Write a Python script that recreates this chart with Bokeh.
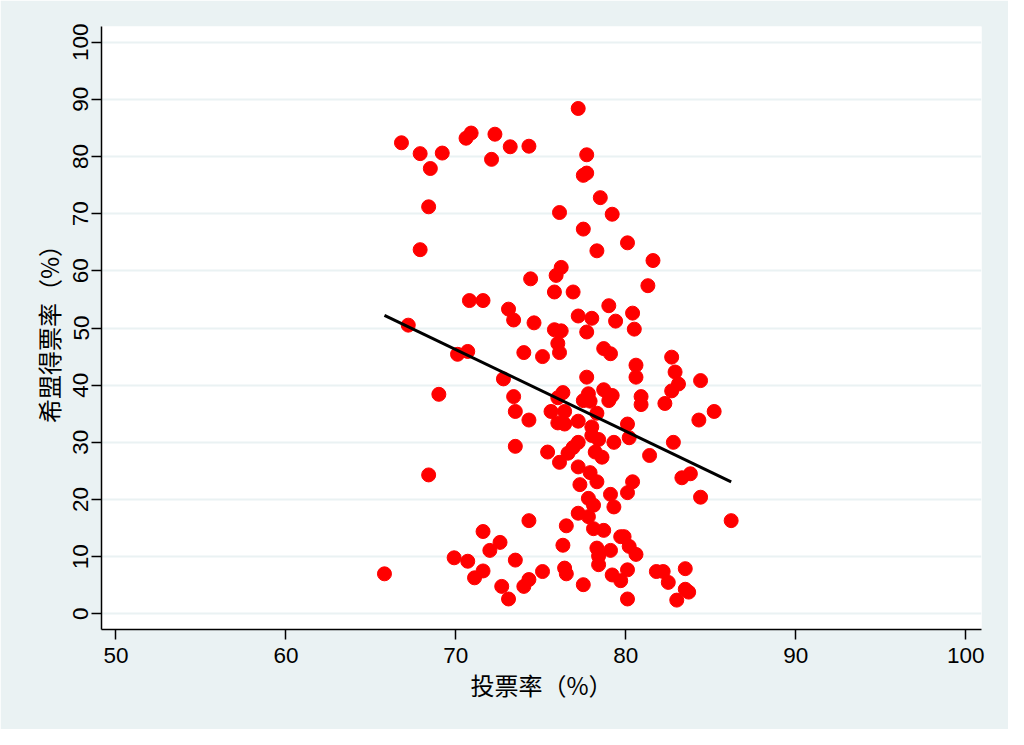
from bokeh.plotting import figure
from bokeh.models import FixedTicker, Range1d
from bokeh.embed import file_html
from bokeh.resources import INLINE

# Turnout (%) and PH vote share (%) per constituency
turnout = [
    65.8, 66.8, 67.2, 67.9, 67.9, 68.5, 68.4, 68.4, 69.0, 69.2,
    70.1, 69.9, 70.6, 70.9, 70.7, 70.8, 70.7, 71.1, 71.6, 71.6,
    71.6, 72.1, 72.0, 72.3, 72.6, 72.7, 72.8, 73.1, 73.1, 73.2,
    73.4, 73.4, 73.5, 73.5, 73.5, 74.0, 74.0, 74.3, 74.3, 74.3,
    74.3, 74.4, 74.6, 75.1, 75.1, 75.4, 75.6, 75.8, 75.9, 75.8,
    76.0, 76.1, 76.0, 76.0, 76.1, 76.2, 76.1, 76.2, 76.3, 76.4,
    76.4, 76.3, 76.5, 76.4, 76.5, 76.6, 76.9, 76.9, 77.2, 77.2,
    77.2, 77.2, 77.3, 77.2, 77.2, 77.5, 77.7, 77.5, 77.7, 77.5,
    77.5, 77.7, 77.7, 77.8, 77.9, 78.0, 77.8, 77.8, 77.9, 78.0,
    78.0, 78.1, 78.1, 78.2, 78.3, 78.3, 78.4, 78.3, 78.3, 78.4,
    78.4, 78.5, 78.6, 78.7, 78.7, 78.7, 79.0, 79.0, 79.1, 79.1,
    79.1, 79.2, 79.2, 79.2, 79.3, 79.3, 79.4, 79.7, 79.7, 79.9,
    80.1, 80.1, 80.1, 80.1, 80.1, 80.2, 80.2, 80.4, 80.4, 80.5,
    80.6, 80.6, 80.9, 80.9, 80.6, 81.3, 81.4, 81.6, 81.8, 82.2,
    82.3, 82.5, 82.7, 82.7, 82.9, 82.8, 83.0, 83.1, 83.3, 83.5,
    83.5, 83.7, 83.8, 84.4, 84.3, 84.4, 85.2, 86.2,
]
ph_share = [
    7.0, 82.4, 50.5, 80.5, 63.7, 77.9, 71.2, 24.3, 38.4, 80.6,
    45.4, 9.8, 83.2, 84.1, 45.9, 54.8, 9.2, 6.3, 7.5, 54.8,
    14.4, 79.5, 11.1, 83.9, 12.5, 4.8, 41.1, 2.6, 53.3, 81.7,
    51.4, 38.0, 9.4, 35.4, 29.3, 4.8, 45.7, 81.8, 33.9, 6.0,
    16.3, 58.6, 50.9, 7.4, 45.0, 28.3, 35.4, 56.3, 59.2, 49.7,
    47.3, 45.7, 37.8, 33.4, 26.5, 60.6, 70.2, 49.5, 38.7, 35.4,
    33.2, 12.0, 15.4, 8.0, 7.0, 28.1, 29.1, 56.3, 52.1, 33.7,
    30.0, 25.7, 22.6, 17.6, 88.4, 76.7, 77.1, 67.3, 80.3, 5.1,
    37.3, 49.3, 41.4, 38.5, 37.2, 51.7, 20.2, 17.0, 24.7, 32.7,
    31.2, 19.0, 14.9, 28.3, 63.5, 35.1, 30.5, 23.1, 11.5, 10.1,
    8.6, 72.8, 27.4, 46.4, 39.2, 14.6, 37.3, 53.9, 45.5, 20.9,
    11.1, 6.8, 69.9, 38.2, 30.0, 18.7, 51.2, 13.5, 5.8, 13.5,
    7.7, 64.9, 33.2, 21.2, 2.6, 30.8, 11.8, 23.1, 52.6, 49.8,
    41.4, 43.5, 38.0, 36.6, 10.4, 57.4, 27.7, 61.8, 7.4, 7.4,
    36.8, 5.5, 44.9, 39.0, 42.3, 30.0, 2.4, 40.2, 23.8, 7.9,
    4.3, 3.8, 24.5, 40.8, 33.9, 20.4, 35.4, 16.3,
]

# Linear fit line end points
fit_x = [65.8, 86.2]
fit_y = [52.2, 23.1]

x_ticks = [50, 60, 70, 80, 90, 100]
y_ticks = [0, 10, 20, 30, 40, 50, 60, 70, 80, 90, 100]

x_title = "投票率（%）"
y_title = "希盟得票率（%）"

BG = "#eaf2f3"

p = figure(
    width=1008, height=729,
    output_backend="svg", toolbar_location=None,
    x_range=Range1d(49.15, 100.93), y_range=Range1d(-2.74, 102.74),
    min_border_left=101, min_border_right=27,
    min_border_top=26, min_border_bottom=100,
)
p.border_fill_color = BG
p.background_fill_color = "white"
p.outline_line_color = None

p.xgrid.visible = False
p.ygrid.grid_line_color = BG
p.ygrid.grid_line_width = 2

p.xaxis.ticker = FixedTicker(ticks=x_ticks)
p.yaxis.ticker = FixedTicker(ticks=y_ticks)

for ax in (p.xaxis[0], p.yaxis[0]):
    ax.axis_line_color = "black"
    ax.axis_line_width = 1.5
    ax.major_tick_line_color = "black"
    ax.major_tick_line_width = 1.5
    ax.major_tick_out = 10
    ax.major_tick_in = 0
    ax.minor_tick_line_color = None
    ax.major_label_text_font = "Liberation Sans"
    ax.major_label_text_font_size = "22.5px"
    ax.major_label_text_color = "black"
    ax.axis_label_text_font = "Noto Sans CJK SC"
    ax.axis_label_text_font_size = "24px"
    ax.axis_label_text_font_style = "normal"
    ax.axis_label_text_color = "black"

p.xaxis.axis_label = x_title
p.yaxis.axis_label = y_title
p.xaxis.major_label_standoff = 8
p.xaxis.axis_label_standoff = 1
p.yaxis.major_label_orientation = "vertical"
p.yaxis.major_label_standoff = 3
p.yaxis.axis_label_standoff = 5

p.scatter(turnout, ph_share, size=14, fill_color="#ff0000",
          line_color="#ff0000", line_width=1)
p.line(fit_x, fit_y, line_color="black", line_width=3)

open("out.html", "w").write(file_html(p, INLINE))
